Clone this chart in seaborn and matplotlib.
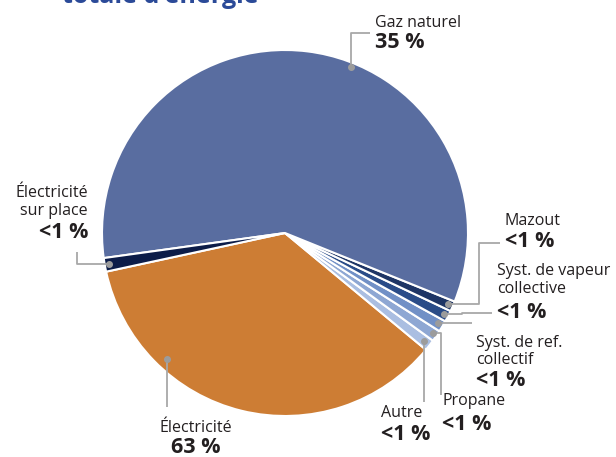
import matplotlib
matplotlib.use("Agg")
import matplotlib.pyplot as plt
import seaborn as sns
import numpy as np

# ---- data ----
categories = ["Électricité", "Autre", "Propane", "Syst. de ref. collectif",
              "Syst. de vapeur collective", "Mazout", "Gaz naturel",
              "Électricité sur place"]
shares = [35.6, 1.0, 1.0, 1.0, 1.0, 0.9, 58.3, 1.2]
label_names = ["Électricité", "Autre", "Propane", "Syst. de ref.\ncollectif",
               "Syst. de vapeur\ncollective", "Mazout", "Gaz naturel",
               "Électricité\nsur place"]
label_pcts = ["63 %", "<1 %", "<1 %", "<1 %", "<1 %", "<1 %", "35 %", "<1 %"]
colors = ["#cd7d34", "#aabee1", "#8ea7d3", "#7190c6", "#2a4c88",
          "#1e3565", "#596da0", "#0c1c48"]
title = "totale d'énergie"

W, H = 616, 457
sns.set_theme(style="white")
plt.rcParams['font.family'] = ['Open Sans', 'DejaVu Sans']

fig = plt.figure(figsize=(W / 100, H / 100), dpi=100)
ax = fig.add_axes([0, 0, 1, 1])
ax.set_xlim(0, W)
ax.set_ylim(0, H)
ax.axis("off")

cx, cy, R = 285, 233, 183
wedges, _ = ax.pie(shares, colors=colors, startangle=192.2, counterclock=True,
                   center=(cx, H - cy), radius=R,
                   wedgeprops=dict(edgecolor="white", linewidth=1.5))
ax.set_xlim(0, W)
ax.set_ylim(0, H)
ax.set_aspect("equal")

# label layout: (fraction along wedge, radius fraction, leader path, text anchor, name baselines, pct baseline)
layout = [
    (0.27, 0.943, lambda d: [(d[0], 407)], (196, "center"), [432], 453),
    (0.5, 0.965, lambda d: [(d[0], 402)], (381, "left"), [417], 440),
    (0.5, 0.975, lambda d: [(441, d[1]), (441, 395)], (442, "left"), [405], 430),
    (0.5, 0.97, lambda d: [(472, d[1])], (476, "left"), [347, 364], 386),
    (0.5, 0.975, lambda d: [(462, d[1]), (462, 313), (492, 313)], (497, "left"), [275, 293], 318),
    (0.5, 0.97, lambda d: [(479, d[1]), (479, 243), (500, 243)], (505, "left"), [225], 247),
    (0.431, 0.976, lambda d: [(d[0], 33), (370, 33)], (375, "left"), [27], 48),
    (0.5, 0.975, lambda d: [(77, d[1]), (77, 252)], (88, "right"), [197, 215], 238),
]

txt_color = "#231f20"
line_color = "#a8a8a8"
for w, name, pct, (frac, rf, path, (tx, ha), nbs, pb) in zip(wedges, label_names, label_pcts, layout):
    ang = np.deg2rad(w.theta1 + frac * (w.theta2 - w.theta1))
    dx = cx + rf * R * np.cos(ang)
    dy = cy - rf * R * np.sin(ang)
    pts = [(dx, dy)] + path((dx, dy))
    xs = [p[0] for p in pts]
    ys = [H - p[1] for p in pts]
    ax.plot(xs, ys, color=line_color, lw=1.3, solid_capstyle="butt", zorder=3)
    ax.plot([dx], [H - dy], "o", color="#9c9c9c", ms=4, zorder=4)
    for line, b in zip(name.split("\n"), nbs):
        ax.text(tx, H - b, line, ha=ha, va="baseline", fontsize=11.5, color=txt_color)
    ax.text(tx, H - pb, pct, ha=ha, va="baseline", fontsize=15.5, fontweight="bold",
            color=txt_color)

ax.text(62, H - 3, title, ha="left", va="baseline", fontsize=18, fontweight="bold",
        color="#2b4a98")

fig.savefig("out.png", dpi=100)
